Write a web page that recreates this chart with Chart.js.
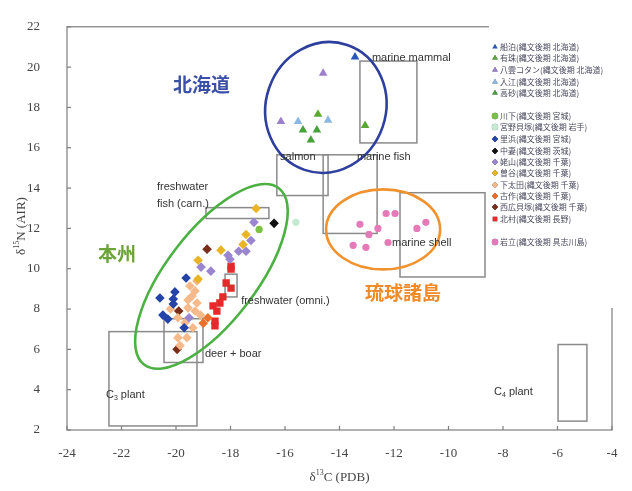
<!DOCTYPE html>
<html>
<head>
<meta charset="utf-8">
<script src="https://cdn.jsdelivr.net/npm/chart.js@4.4.0/dist/chart.umd.min.js"></script>
<style>
  html, body { margin: 0; padding: 0; background: #fff; }
  #wrap { width: 632px; height: 491px; position: relative; }
</style>
</head>
<body>
<div id="wrap"><canvas id="isoChart"></canvas></div>
<script>
// axis ticks
const xTickValues = [-24, -22, -20, -18, -16, -14, -12, -10, -8, -6, -4];
const yTickValues = [2, 4, 6, 8, 10, 12, 14, 16, 18, 20, 22];

// site labels (legend order)
const siteLabels = [
    '船泊(縄文後期 北海道)', '有珠(縄文後期 北海道)', '八雲コタン(縄文後期 北海道)',
    '入江(縄文後期 北海道)', '高砂(縄文後期 北海道)',
    '川下(縄文後期 宮城)', '宮野貝塚(縄文後期 岩手)', '里浜(縄文後期 宮城)',
    '中妻(縄文後期 茨城)', '姥山(縄文後期 千葉)', '曽谷(縄文後期 千葉)',
    '下太田(縄文後期 千葉)', '古作(縄文後期 千葉)', '西広貝塚(縄文後期 千葉)',
    '北村(縄文後期 長野)', '岩立(縄文後期 具志川島)'
];

// [d13C, d15N] per site
const funadomari = [[-13.43, 20.5]];
const usu = [[-13.06, 17.1], [-14.79, 17.66]];
const yakumo = [[-14.6, 19.7], [-16.15, 17.3]];
const irie = [[-15.52, 17.3], [-14.42, 17.37]];
const takasago = [[-15.34, 16.88], [-14.83, 16.88], [-15.05, 16.38]];
const kawashita = [[-16.95, 11.95]];
const miyano = [[-15.6, 12.3]];
const satohama = [[-19.63, 9.54], [-20.04, 8.85], [-20.59, 8.55], [-20.1, 8.5], [-20.1, 8.25],
    [-20.48, 7.7], [-20.3, 7.5], [-19.7, 7.07]];
const nakazuma = [[-16.4, 12.25]];
const ubayama = [[-17.14, 12.3], [-17.25, 11.4], [-17.7, 10.87], [-17.43, 10.87], [-18.09, 10.67],
    [-18.02, 10.47], [-19.08, 10.08], [-18.72, 9.88], [-19.52, 7.57]];
const soya = [[-17.06, 12.99], [-17.43, 11.7], [-17.54, 11.2], [-18.35, 10.92], [-19.19, 10.42], [-19.19, 9.49]];
const shimoota = [[-19.49, 9.14], [-19.23, 9.39], [-19.3, 8.9], [-19.41, 8.65], [-19.56, 8.45],
    [-19.23, 8.3], [-19.56, 8.06], [-19.3, 7.9], [-19.93, 7.57], [-19.67, 7.32], [-19.38, 7.07],
    [-19.6, 6.58], [-19.93, 6.58], [-19.85, 6.19], [-20.2, 8.0], [-19.1, 7.7]];
const kosaku = [[-18.83, 7.57], [-19.0, 7.3]];
const nishibiro = [[-18.86, 10.97], [-19.9, 7.9], [-19.96, 6.0]];
const kitamura = [[-17.98, 10.13], [-17.98, 9.98], [-18.16, 9.29], [-17.98, 9.04], [-18.28, 8.6],
    [-18.39, 8.3], [-18.64, 8.16], [-18.5, 7.9], [-18.57, 7.4], [-18.57, 7.17]];
const iwatachi = [[-12.29, 12.74], [-11.96, 12.74], [-13.25, 12.2], [-12.59, 12.0], [-12.92, 11.7],
    [-10.83, 12.3], [-11.16, 12.0], [-12.22, 11.3], [-13.5, 11.16], [-13.03, 11.06]];

const siteData = [funadomari, usu, yakumo, irie, takasago, kawashita, miyano, satohama,
    nakazuma, ubayama, soya, shimoota, kosaku, nishibiro, kitamura, iwatachi];

// food reference ranges
const boxNames = ['marine mammal', 'marine fish', 'salmon', 'marine shell', 'freshwater fish (carn.)',
    'freshwater (omni.)', 'deer + boar', 'C3 plant', 'C4 plant'];
const boxXMin = [-13.25, -14.6, -16.3, -11.78, -18.9, -18.2, -20.44, -22.46, -5.98];
const boxXMax = [-11.16, -12.62, -14.42, -8.66, -16.59, -17.76, -19.01, -19.23, -4.92];
const boxYMin = [16.24, 11.75, 13.63, 9.59, 12.49, 8.6, 5.35, 2.2, 2.44];
const boxYMax = [20.3, 15.65, 15.65, 13.77, 13.03, 9.73, 7.52, 6.88, 6.24];

// marker styles
const siteColors = ['#2b56b8', '#58a832', '#9d80cc', '#8ab8e2', '#47a23a',
    '#7cc045', '#c4ead2', '#2443a8', '#111111', '#9a86d0', '#e9b425',
    '#f5b98a', '#e8702a', '#7a2e1a', '#e42a2a', '#e67ab8'];
const siteShapes = ['triangle', 'triangle', 'triangle', 'triangle', 'triangle',
    'circle', 'circle', 'rectRot', 'rectRot', 'rectRot', 'rectRot',
    'rectRot', 'rectRot', 'rectRot', 'rect', 'circle'];
const shapeSize = { triangle: 5, circle: 3.6, rectRot: 4.8, rect: 5.2 };
const legendY = [47, 58, 70, 82, 93, 116, 127, 139, 151, 162, 173, 185, 196, 207, 219, 242];

const ctx = document.getElementById('isoChart').getContext('2d');

function line(c, x1, y1, x2, y2) {
    c.beginPath(); c.moveTo(x1, y1); c.lineTo(x2, y2); c.stroke();
}

function subText(c, parts, x, y, size, family) {
    // parts: [text, 'n'|'sup'|'sub']
    let cx = x;
    parts.forEach(([t, kind]) => {
        const s = kind === 'n' ? size : Math.round(size * 0.62);
        const dy = kind === 'sup' ? -size * 0.38 : kind === 'sub' ? size * 0.25 : 0;
        c.font = s + 'px ' + family;
        c.fillText(t, cx, y + dy);
        cx += c.measureText(t).width;
    });
    return cx - x;
}

const backdrop = {
    id: 'backdrop',
    beforeDatasetsDraw(chart) {
        const { ctx: c, chartArea: a, scales: { x, y } } = chart;
        c.save();
        c.strokeStyle = '#7d7d7d';
        c.lineWidth = 1.2;
        c.strokeRect(a.left, a.top, a.right - a.left, a.bottom - a.top);
        xTickValues.forEach(v => { const p = x.getPixelForValue(v); line(c, p, a.bottom, p, a.bottom - 4); });
        yTickValues.forEach(v => { const p = y.getPixelForValue(v); line(c, a.left, p, a.left + 4, p); });

        c.strokeStyle = '#8a8a8a';
        c.lineWidth = 1.5;
        boxNames.forEach((n, i) => {
            const x1 = x.getPixelForValue(boxXMin[i]), x2 = x.getPixelForValue(boxXMax[i]);
            const y1 = y.getPixelForValue(boxYMax[i]), y2 = y.getPixelForValue(boxYMin[i]);
            c.strokeRect(x1, y1, x2 - x1, y2 - y1);
        });

        // region ellipses
        const ellipses = [
            { cx: -14.5, cy: 18.0, rx: 60, ry: 66, rot: 0.33, color: '#2f3f9e' },
            { cx: -18.7, cy: 9.62, rx: 111, ry: 45, rot: -0.918, color: '#4cb043' },
            { cx: -12.4, cy: 11.95, rx: 57, ry: 40, rot: 0, color: '#f0922e' }
        ];
        c.lineWidth = 2.6;
        ellipses.forEach(e => {
            c.strokeStyle = e.color;
            c.beginPath();
            c.ellipse(x.getPixelForValue(e.cx), y.getPixelForValue(e.cy), e.rx, e.ry, e.rot, 0, Math.PI * 2);
            c.stroke();
        });

        // food captions
        c.fillStyle = '#333';
        c.textBaseline = 'middle';
        c.textAlign = 'left';
        const sans = '"Liberation Sans", Arial, sans-serif';
        const captions = [
            ['marine mammal', -12.81, 20.47], ['salmon', -16.18, 15.55], ['marine fish', -13.36, 15.55],
            ['freshwater', -20.7, 14.07], ['fish (carn.)', -20.7, 13.23], ['marine shell', -12.07, 11.26],
            ['freshwater (omni.)', -17.61, 8.4], ['deer + boar', -18.94, 5.79]
        ];
        c.font = '11px ' + sans;
        captions.forEach(([t, dx, dy]) => c.fillText(t, x.getPixelForValue(dx), y.getPixelForValue(dy)));
        subText(c, [['C', 'n'], ['3', 'sub'], [' plant', 'n']], x.getPixelForValue(-22.57), y.getPixelForValue(3.72), 11, sans);
        subText(c, [['C', 'n'], ['4', 'sub'], [' plant', 'n']], x.getPixelForValue(-8.33), y.getPixelForValue(3.87), 11, sans);

        // region names
        c.font = 'bold 19px "Noto Sans CJK JP", sans-serif';
        [['北海道', -20.11, 19.14, '#3a4fa8'], ['本州', -22.86, 10.72, '#6ba539'], ['琉球諸島', -13.06, 8.8, '#f08a28']]
            .forEach(([t, dx, dy, col]) => {
                c.fillStyle = col;
                c.fillText(t, x.getPixelForValue(dx), y.getPixelForValue(dy));
            });
        c.restore();
    },
    afterDraw(chart) {
        const { ctx: c, chartArea: a } = chart;
        c.save();
        // legend panel
        c.fillStyle = '#fff';
        c.fillRect(489, 8, 143, 300);
        c.textBaseline = 'middle';
        c.textAlign = 'left';
        c.font = '8px "Noto Sans CJK JP", sans-serif';
        chart.data.datasets.forEach((ds, i) => {
            Chart.helpers.drawPoint(c, {
                pointStyle: ds.pointStyle, radius: 3.2, borderWidth: 0, rotation: 0
            }, 495, legendY[i]);
            c.fillStyle = ds.backgroundColor;
            c.fill();
            c.fillStyle = '#4a4a5e';
            c.fillText(ds.label, 500, legendY[i]);
        });

        // axis titles
        const serif = '"Liberation Serif", "Times New Roman", serif';
        c.fillStyle = '#444';
        c.textBaseline = 'middle';
        const xParts = [['δ', 'n'], ['13', 'sup'], ['C (PDB)', 'n']];
        let w = 0;
        xParts.forEach(([t, k]) => { c.font = (k === 'n' ? 13 : 8) + 'px ' + serif; w += c.measureText(t).width; });
        subText(c, xParts, (a.left + a.right) / 2 - w / 2, 478, 13, serif);
        c.translate(22, 226);
        c.rotate(-Math.PI / 2);
        const yParts = [['δ', 'n'], ['15', 'sup'], ['N (AIR)', 'n']];
        w = 0;
        yParts.forEach(([t, k]) => { c.font = (k === 'n' ? 13 : 8) + 'px ' + serif; w += c.measureText(t).width; });
        subText(c, yParts, -w / 2, 0, 13, serif);
        c.restore();
    }
};

const datasets = siteLabels.map((label, i) => ({
    label: label,
    data: siteData[i].map(p => ({ x: p[0], y: p[1] })),
    pointStyle: siteShapes[i],
    pointRadius: shapeSize[siteShapes[i]],
    backgroundColor: siteColors[i],
    borderColor: siteColors[i],
    borderWidth: 0
}));

const tickFont = { family: '"Liberation Serif", "Times New Roman", serif', size: 13 };

new Chart(ctx, {
    type: 'scatter',
    data: { datasets: datasets },
    options: {
        responsive: true,
        maintainAspectRatio: false,
        animation: false,
        layout: { padding: { top: 24, right: 20, left: 0, bottom: 0 } },
        scales: {
            x: {
                type: 'linear', min: -24, max: -4,
                afterBuildTicks: s => { s.ticks = xTickValues.map(v => ({ value: v })); },
                afterFit: s => { s.height = 61; },
                grid: { display: false },
                border: { display: false },
                ticks: { font: tickFont, color: '#444', padding: 8, maxRotation: 0 }
            },
            y: {
                type: 'linear', min: 2, max: 22,
                afterBuildTicks: s => { s.ticks = yTickValues.map(v => ({ value: v })); },
                afterFit: s => { s.width = 67; },
                grid: { display: false },
                border: { display: false },
                ticks: { font: tickFont, color: '#444', padding: 19 }
            }
        },
        plugins: {
            legend: { display: false },
            tooltip: { enabled: false }
        }
    },
    plugins: [backdrop]
});
</script>
</body>
</html>
